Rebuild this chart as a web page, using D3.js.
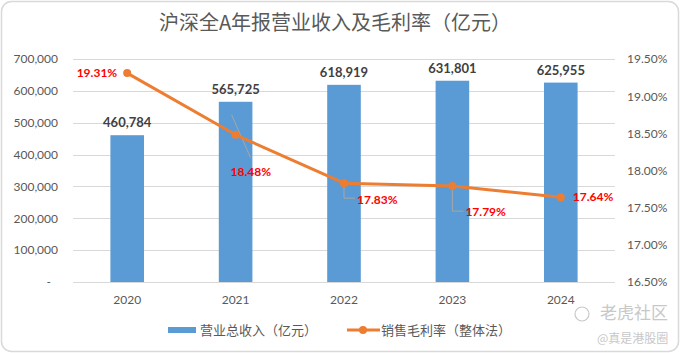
<!DOCTYPE html>
<html>
<head>
<meta charset="utf-8">
<script src="https://cdn.jsdelivr.net/npm/d3@7"></script>
<style>
  html, body { margin: 0; padding: 0; background: #fff; }
  svg { display: block; }
  .cjk { font-family: "Noto Sans CJK SC", "Noto Sans", sans-serif; }
  .num { font-family: Lato, "Open Sans", sans-serif; }
</style>
</head>
<body>
<svg id="chart" width="680" height="353"></svg>
<script>
// chart data
var years = ["2020", "2021", "2022", "2023", "2024"];
var revenue = [460784, 565725, 618919, 631801, 625955];
var margin = [19.31, 18.48, 17.83, 17.79, 17.64];
var revenueTicks = [0, 100000, 200000, 300000, 400000, 500000, 600000, 700000];
var marginTicks = [16.5, 17.0, 17.5, 18.0, 18.5, 19.0, 19.5];

var titleText = "沪深全A年报营业收入及毛利率（亿元）";
var legendNames = ["营业总收入（亿元）", "销售毛利率（整体法）"];

var blue = "#5B9BD5", orange = "#ED7D31", grey = "#595959";

var svg = d3.select("#chart");

// rounded frame
svg.append("rect")
	.attr("x", 1.5).attr("y", 1.5)
	.attr("width", 677).attr("height", 350)
	.attr("rx", 10).attr("ry", 10)
	.attr("fill", "#fff")
	.attr("stroke", "#d9d9d9")
	.attr("stroke-width", 1.5);

svg.append("text")
	.attr("class", "cjk")
	.attr("x", 335).attr("y", 30)
	.attr("text-anchor", "middle")
	.attr("font-size", 20)
	.attr("fill", grey)
	.text(titleText);

var plotLeft = 73, plotRight = 615, plotTop = 59, plotBottom = 282;

var x = d3.scaleBand().domain(years).range([plotLeft, plotRight]).paddingInner(0.69).paddingOuter(0.345);
var yL = d3.scaleLinear().domain([0, 700000]).range([plotBottom, plotTop]);
var yR = d3.scaleLinear().domain([16.5, 19.5]).range([plotBottom, plotTop]);
var fmt = d3.format(",");

// gridlines
svg.append("g").selectAll("line")
	.data(revenueTicks)
	.join("line")
	.attr("x1", plotLeft).attr("x2", plotRight)
	.attr("y1", function(d){ return Math.round(yL(d)) + 0.5; })
	.attr("y2", function(d){ return Math.round(yL(d)) + 0.5; })
	.attr("stroke", "#d9d9d9");

// left axis
var axL = svg.append("g")
	.attr("transform", "translate(58,0)")
	.call(d3.axisLeft(yL).tickValues(revenueTicks).tickSize(0).tickPadding(0)
		.tickFormat(function(d){ return d === 0 ? "-" : fmt(d); }));
axL.select(".domain").remove();
axL.selectAll("text").attr("font-size", 12).attr("fill", grey).attr("font-family", "Lato, sans-serif");
axL.selectAll("text").filter(function(d){ return d === 0; }).attr("dx", -7);

// right axis
var axR = svg.append("g")
	.attr("transform", "translate(627,0)")
	.call(d3.axisRight(yR).tickValues(marginTicks).tickSize(0).tickPadding(0)
		.tickFormat(function(d){ return d.toFixed(2) + "%"; }));
axR.select(".domain").remove();
axR.selectAll("text").attr("font-size", 12).attr("fill", grey).attr("font-family", "Lato, sans-serif");

// bottom axis labels
var axB = svg.append("g")
	.attr("transform", "translate(0,295)")
	.call(d3.axisBottom(x).tickSize(0).tickPadding(0));
axB.select(".domain").remove();
axB.selectAll("text").attr("font-size", 12).attr("fill", grey).attr("font-family", "Lato, sans-serif");

// bars
svg.append("g").selectAll("rect")
	.data(revenue)
	.join("rect")
	.attr("x", function(d, i){ return x(years[i]); })
	.attr("width", x.bandwidth())
	.attr("y", function(d){ return yL(d); })
	.attr("height", function(d){ return yL(0) - yL(d); })
	.attr("fill", blue);

svg.append("g").selectAll("text")
	.data(revenue)
	.join("text")
	.attr("class", "num")
	.attr("x", function(d, i){ return x(years[i]) + x.bandwidth() / 2; })
	.attr("y", function(d){ return yL(d) - 8; })
	.attr("text-anchor", "middle")
	.attr("font-size", 13)
	.attr("font-weight", "bold")
	.attr("fill", "#404040")
	.text(function(d){ return fmt(d); });

// margin line points
var pts = margin.map(function(d, i){
	return [x(years[i]) + x.bandwidth() / 2, yR(d)];
});

// leader lines (Excel style, labels dragged away from their points)
var leaders = [
	null,
	function(p){ return "M" + (p[0] - 4) + "," + (p[1] - 20) + "L" + (p[0] + 15) + "," + (p[1] + 23); },
	function(p){ return "M" + p[0] + "," + (p[1] + 4) + "V" + (p[1] + 15) + "H" + (p[0] + 11); },
	function(p){ return "M" + p[0] + "," + (p[1] + 4) + "V" + (p[1] + 25) + "H" + (p[0] + 11); },
	null
];
svg.append("g").selectAll("path")
	.data(d3.range(pts.length).filter(function(i){ return leaders[i]; }))
	.join("path")
	.attr("d", function(i){ return leaders[i](pts[i]); })
	.attr("fill", "none")
	.attr("stroke", "#a6a6a6")
	.attr("stroke-width", 1);

svg.append("path")
	.datum(pts)
	.attr("d", d3.line())
	.attr("fill", "none")
	.attr("stroke", orange)
	.attr("stroke-width", 3)
	.attr("stroke-linejoin", "round");

svg.append("g").selectAll("circle")
	.data(pts)
	.join("circle")
	.attr("cx", function(p){ return p[0]; })
	.attr("cy", function(p){ return p[1]; })
	.attr("r", 4)
	.attr("fill", orange);

// label placement: [dx, dy, anchor]
var labelPos = [[-10, 0, "end"], [-5, 37, "start"], [13, 17, "start"], [13, 26, "start"], [12, 0, "start"]];
svg.append("g").selectAll("text")
	.data(margin)
	.join("text")
	.attr("class", "num")
	.attr("x", function(d, i){ return pts[i][0] + labelPos[i][0]; })
	.attr("y", function(d, i){ return pts[i][1] + labelPos[i][1]; })
	.attr("dy", "0.35em")
	.attr("text-anchor", function(d, i){ return labelPos[i][2]; })
	.attr("font-size", 12)
	.attr("font-weight", "bold")
	.attr("fill", "#ff0000")
	.text(function(d){ return d.toFixed(2) + "%"; });

// legend
var lg = svg.append("g").attr("transform", "translate(0,330)");
lg.append("rect").attr("x", 168).attr("y", -3).attr("width", 28).attr("height", 6).attr("fill", blue);
lg.append("text").attr("class", "cjk").attr("x", 200).attr("y", 0).attr("dy", "0.35em")
	.attr("font-size", 13).attr("fill", grey).text(legendNames[0]);
lg.append("line").attr("x1", 347).attr("x2", 380).attr("y1", 0).attr("y2", 0)
	.attr("stroke", orange).attr("stroke-width", 3);
lg.append("circle").attr("cx", 363).attr("cy", 0).attr("r", 4).attr("fill", orange);
lg.append("text").attr("class", "cjk").attr("x", 381).attr("y", 0).attr("dy", "0.35em")
	.attr("font-size", 13).attr("fill", grey).text(legendNames[1]);

// watermark
var wm = svg.append("g").attr("fill", "#c8c8c8");
wm.append("circle").attr("cx", 582).attr("cy", 314).attr("r", 7)
	.attr("fill", "none").attr("stroke", "#c8c8c8").attr("stroke-width", 1.2);
wm.append("text").attr("class", "cjk").attr("x", 600).attr("y", 313).attr("dy", "0.35em")
	.attr("font-size", 17).text("老虎社区");
wm.append("text").attr("class", "cjk").attr("x", 597).attr("y", 339).attr("dy", "0.35em")
	.attr("font-size", 12).text("@真是港股圈");
</script>
</body>
</html>
